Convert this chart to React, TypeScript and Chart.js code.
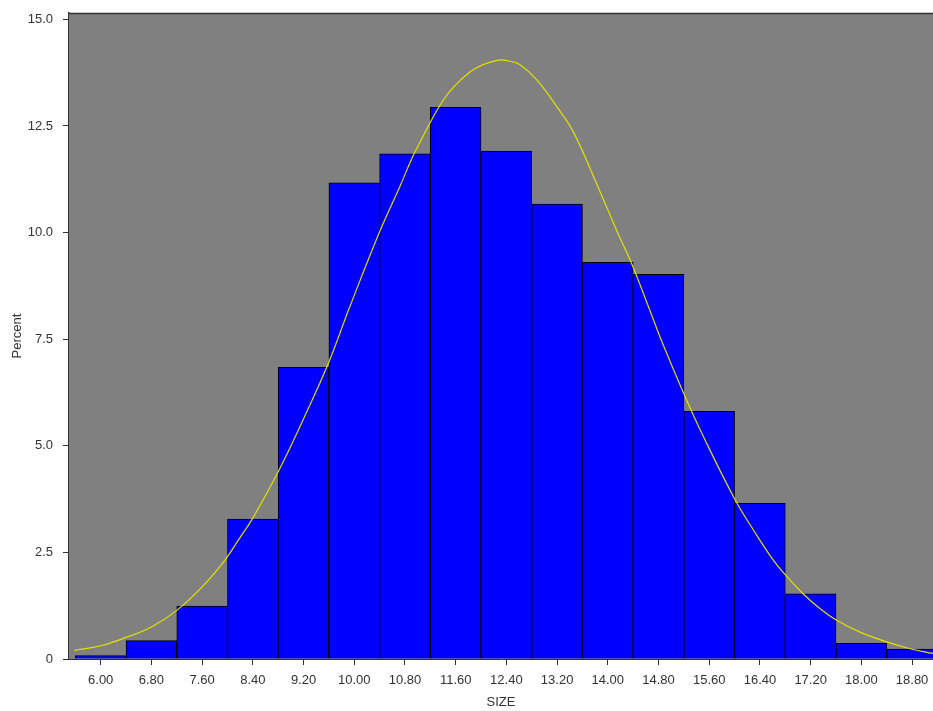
import React, { useEffect, useRef } from "react";
import { Chart, registerables } from "chart.js";

Chart.register(...registerables);

// Histogram bins (centres of 0.8-wide classes) and their percentages
const binCenters = [6.0, 6.8, 7.6, 8.4, 9.2, 10.0, 10.8, 11.6, 12.4, 13.2, 14.0, 14.8, 15.6, 16.4, 17.2, 18.0, 18.8];
const binPercents = [0.08, 0.43, 1.24, 3.28, 6.84, 11.17, 11.85, 12.94, 11.91, 10.67, 9.3, 9.02, 5.81, 3.65, 1.53, 0.37, 0.23];

// Fitted normal curve, sampled along SIZE
const curveX = [
  5.58, 6.0, 6.39, 6.8, 7.2, 7.6, 7.96, 8.19, 8.39, 8.8, 9.19, 9.59, 9.93, 10.4, 10.72, 10.9, 11.03, 11.35,
  11.56, 11.9, 12.25, 12.43, 12.61, 12.88, 13.22, 13.46, 13.82, 14.16, 14.38, 14.66, 14.87, 15.22, 15.51,
  16.01, 16.3, 16.61, 16.81, 17.08, 17.35, 17.61, 17.98, 18.4, 18.77, 19.13,
];
const curveY = [
  0.2, 0.31, 0.5, 0.75, 1.14, 1.69, 2.32, 2.83, 3.28, 4.39, 5.6, 6.93, 8.26, 10.02, 11.08, 11.71, 12.1, 12.98,
  13.4, 13.84, 14.04, 14.03, 13.94, 13.58, 12.9, 12.35, 11.16, 9.98, 9.26, 8.19, 7.38, 6.15, 5.21,
  3.73, 3.02, 2.32, 1.96, 1.53, 1.18, 0.91, 0.63, 0.4, 0.24, 0.13,
];

const yTicks = [0, 2.5, 5.0, 7.5, 10.0, 12.5, 15.0];
const xTitle = "SIZE";
const yTitle = "Percent";

const FONT = "'Liberation Sans', Arial, sans-serif";
const INK = "#333333";

const plotFrame = {
  id: "plotFrame",
  beforeDatasetsDraw(chart: any) {
    const { ctx, chartArea } = chart;
    ctx.save();
    ctx.fillStyle = "#808080";
    ctx.fillRect(chartArea.left, chartArea.top, chartArea.right - chartArea.left, chartArea.bottom - chartArea.top);
    ctx.restore();
  },
  afterDraw(chart: any) {
    const { ctx, chartArea } = chart;
    ctx.save();
    ctx.strokeStyle = INK;
    ctx.lineWidth = 1.5;
    ctx.beginPath();
    ctx.moveTo(chartArea.left, chartArea.top + 0.5);
    ctx.lineTo(chartArea.right, chartArea.top + 0.5);
    ctx.stroke();
    ctx.restore();
  },
};

export default function App() {
  const canvasRef = useRef<HTMLCanvasElement | null>(null);

  useEffect(() => {
    const canvas = canvasRef.current;
    if (!canvas) return;
    const chart = new Chart(canvas, {
      type: "bar",
      data: {
        datasets: [
          {
            type: "line",
            label: "Normal",
            data: curveX.map((x, i) => ({ x, y: curveY[i] })),
            borderColor: "#e0e000",
            borderWidth: 1.2,
            pointRadius: 0,
            fill: false,
            tension: 0.4,
            order: 0,
          } as any,
          {
            type: "bar",
            label: "Percent",
            data: binCenters.map((x, i) => ({ x, y: binPercents[i] })),
            backgroundColor: "#0000ff",
            borderColor: "#000000",
            borderWidth: 1,
            barPercentage: 1,
            categoryPercentage: 1,
            order: 1,
          } as any,
        ],
      },
      options: {
        responsive: false,
        animation: false,
        devicePixelRatio: 1,
        layout: { padding: { top: 13, left: 0, right: 0, bottom: 0 } },
        plugins: {
          legend: { display: false },
          tooltip: { enabled: false },
        },
        scales: {
          x: {
            type: "linear",
            min: 5.5,
            max: 19.13,
            offset: false,
            afterBuildTicks: (scale: any) => {
              scale.ticks = binCenters.map((v) => ({ value: v }));
            },
            afterFit: (scale: any) => {
              scale.height = 52;
              scale.paddingLeft = 0;
              scale.paddingRight = 0;
            },
            ticks: {
              color: INK,
              font: { family: FONT, size: 13 },
              padding: 8,
              maxRotation: 0,
              autoSkip: false,
              callback: (v: any) => Number(v).toFixed(2),
            },
            grid: {
              offset: false,
              drawOnChartArea: false,
              drawTicks: true,
              tickLength: 6,
              color: INK,
            },
            border: { display: true, color: INK, width: 1 },
            title: {
              display: true,
              text: xTitle,
              color: INK,
              font: { family: FONT, size: 13 },
              padding: { top: 2, bottom: 1 },
            },
          },
          y: {
            type: "linear",
            min: 0,
            max: 15.15,
            afterBuildTicks: (scale: any) => {
              scale.ticks = yTicks.map((v) => ({ value: v }));
            },
            afterFit: (scale: any) => {
              scale.width = 69;
              scale.paddingTop = 0;
              scale.paddingBottom = 0;
            },
            ticks: {
              color: INK,
              font: { family: FONT, size: 13 },
              padding: 10,
              callback: (v: any) => (Number(v) === 0 ? "0" : Number(v).toFixed(1)),
            },
            grid: {
              drawOnChartArea: false,
              drawTicks: true,
              tickLength: 6,
              color: INK,
            },
            border: { display: true, color: INK, width: 1.5 },
            title: {
              display: true,
              text: yTitle,
              color: INK,
              font: { family: FONT, size: 13 },
              padding: { top: 9.5, bottom: 2 },
            },
          },
        },
      } as any,
      plugins: [plotFrame],
    });
    return () => chart.destroy();
  }, []);

  return (
    <div style={{ position: "absolute", left: 0, top: 0, width: 933, height: 711, background: "#ffffff" }}>
      <canvas ref={canvasRef} width={933} height={711} style={{ display: "block" }} />
    </div>
  );
}
